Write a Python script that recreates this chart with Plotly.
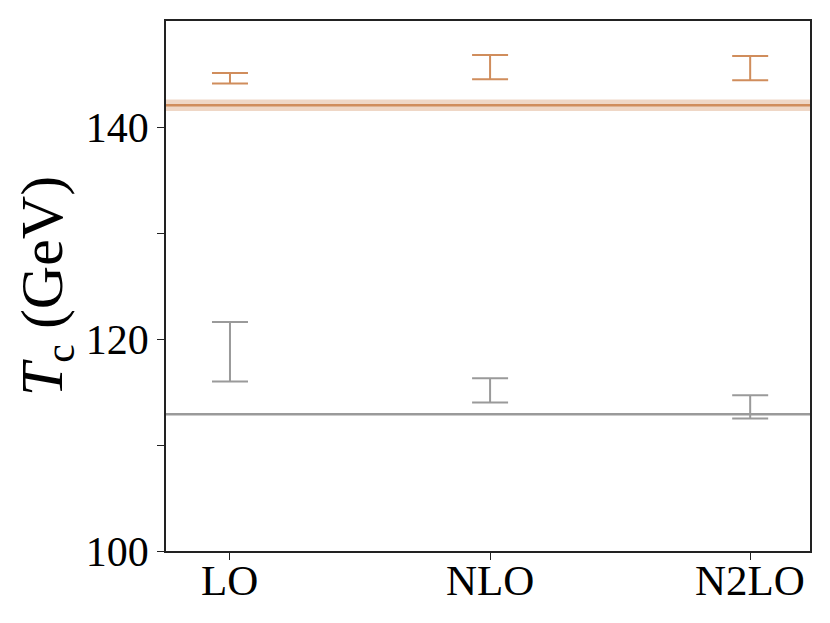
import plotly.graph_objects as go

# Perturbative orders
orders = ["LO", "NLO", "N2LO"]
order_pos = [0, 1, 2]

# T_c ranges (GeV) from the two scans
orange_low = [144.1, 144.5, 144.4]
orange_high = [145.1, 146.8, 146.7]
gray_low = [116.0, 114.0, 112.5]
gray_high = [121.6, 116.3, 114.7]

# Reference (non-perturbative) values
orange_ref = 142.05
orange_ref_band = [141.5, 142.6]
gray_ref = 112.9

ORANGE = "#D08D5C"
GRAY = "#9A9A9A"
FONT = "Liberation Serif"


def range_trace(low, high, color):
    mid = [(a + b) / 2 for a, b in zip(low, high)]
    half = [(b - a) / 2 for a, b in zip(low, high)]
    return go.Scatter(
        x=order_pos,
        y=mid,
        mode="markers",
        marker=dict(size=0.1, color=color, opacity=0),
        error_y=dict(type="data", array=half, symmetric=True,
                     color=color, thickness=2, width=18),
        showlegend=False,
        hoverinfo="skip",
    )


fig = go.Figure()

# reference band and lines
fig.add_hrect(y0=orange_ref_band[0], y1=orange_ref_band[1],
              fillcolor=ORANGE, opacity=0.35, line_width=0, layer="below")
fig.add_hline(y=orange_ref, line=dict(color=ORANGE, width=2.5))
fig.add_hline(y=gray_ref, line=dict(color=GRAY, width=2.5))

fig.add_trace(range_trace(orange_low, orange_high, ORANGE))
fig.add_trace(range_trace(gray_low, gray_high, GRAY))

# x tick labels sit closer to the axis than plotly puts them, so use annotations
for pos, name in zip(order_pos, orders):
    fig.add_annotation(x=pos, xref="x", y=0, yref="paper", text=name,
                       showarrow=False, yanchor="top", yshift=-4,
                       font=dict(size=43))

# the page body adds an 8px offset, so margins are shifted to compensate
fig.update_layout(
    width=830,
    height=623,
    margin=dict(l=158, r=28, t=11, b=80),
    plot_bgcolor="white",
    paper_bgcolor="white",
    font=dict(family=FONT, size=40, color="black"),
    showlegend=False,
)

axis_style = dict(
    showgrid=False,
    zeroline=False,
    showline=True,
    linecolor="#222222",
    linewidth=1.5,
    mirror=True,
    ticks="outside",
    ticklen=7,
    tickwidth=1.2,
    tickcolor="#222222",
)

fig.update_xaxes(
    range=[-0.246, 2.23],
    tickvals=order_pos,
    showticklabels=False,
    **axis_style,
)

fig.update_yaxes(
    range=[100, 150],
    tickvals=[100, 120, 140],
    tickfont=dict(size=42),
    minor=dict(tickvals=[110, 130], ticks="outside", ticklen=7,
               tickwidth=1.2, tickcolor="#222222", showgrid=False),
    title=dict(text="<i>T</i><sub>c</sub> (GeV)", font=dict(size=60), standoff=4),
    automargin=True,
    **axis_style,
)

fig.write_html("out.html")
